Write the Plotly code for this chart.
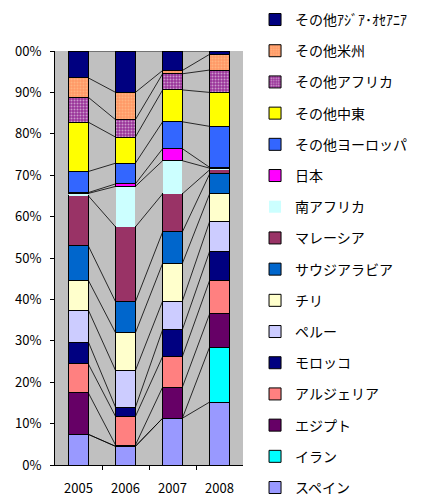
import plotly.graph_objects as go
import numpy as np

years = ["2005", "2006", "2007", "2008"]
x_pos = [0, 1, 2, 3]

# Series (bottom to top), shares in %
spain      = [7.4, 4.5, 11.3, 15.2]
iran       = [0.0, 0.0, 0.0, 13.3]
egypt      = [10.0, 0.3, 7.5, 8.0]
algeria    = [7.0, 6.9, 7.4, 8.1]
morocco    = [5.3, 2.2, 6.5, 7.0]
peru       = [7.7, 8.9, 6.9, 7.2]
chile      = [7.2, 9.1, 9.1, 6.7]
saudi      = [8.3, 7.5, 7.6, 4.8]
malaysia   = [12.1, 18.1, 9.2, 1.0]
s_africa   = [0.6, 9.8, 8.0, 0.4]
japan      = [0.2, 0.6, 2.9, 0.2]
oth_europe = [5.1, 5.0, 6.5, 9.9]
oth_mideast= [11.9, 6.3, 7.7, 8.2]
oth_africa = [6.0, 4.2, 3.9, 5.4]
oth_america= [4.7, 6.6, 0.8, 3.8]
oth_asia   = [6.5, 10.0, 4.7, 0.8]

names = ["スペイン", "イラン", "エジプト", "アルジェリア", "モロッコ", "ペルー", "チリ",
         "サウジアラビア", "マレーシア", "南アフリカ", "日本", "その他ヨーロッパ",
         "その他中東", "その他アフリカ", "その他米州", "その他ｱｼﾞｱ･ｵｾｱﾆｱ"]
values = [spain, iran, egypt, algeria, morocco, peru, chile, saudi, malaysia,
          s_africa, japan, oth_europe, oth_mideast, oth_africa, oth_america, oth_asia]
colors = ["#9999FF", "#00FFFF", "#660066", "#FF8080", "#000080", "#CCCCFF", "#FFFFCC",
          "#0066CC", "#993366", "#CCFFFF", "#FF00FF", "#3366FF", "#FFFF00",
          "#993399", "#FF9966", "#000080"]

y_tickvals = [0, 10, 20, 30, 40, 50, 60, 70, 80, 90, 100]
y_ticktext = ["0%", "10%", "20%", "30%", "40%", "50%", "60%", "70%", "80%", "90%", "00%"]

BAR_W = 0.42
FONT = "Noto Sans CJK JP"

fig = go.Figure()

for k, (name, vals, col) in enumerate(zip(names, values, colors)):
    marker = dict(color=col, line=dict(color="black", width=1))
    if name == "南アフリカ":
        marker["line"] = dict(color=col, width=0)
    if name == "その他アフリカ":
        marker["pattern"] = dict(shape=".", fgcolor="#FFFFFF", bgcolor="#993399",
                                 size=3, solidity=0.35)
    if name == "その他米州":
        marker["pattern"] = dict(shape=".", fgcolor="#FFCC99", bgcolor="#FF9966",
                                 size=3, solidity=0.35)
    fig.add_trace(go.Bar(x=x_pos, y=vals, name=name, marker=marker, width=BAR_W,
                         legendgroup=name, legendrank=100 - k))

# Series lines connecting the top of each segment between adjacent bars
cum = np.cumsum(np.array(values), axis=0)
lx, ly = [], []
for k in range(len(names)):
    for i in range(len(x_pos) - 1):
        lx += [x_pos[i] + BAR_W / 2, x_pos[i + 1] - BAR_W / 2, None]
        ly += [cum[k][i], cum[k][i + 1], None]
fig.add_trace(go.Scatter(x=lx, y=ly, mode="lines", line=dict(color="black", width=0.8),
                         showlegend=False, hoverinfo="skip"))

fig.update_layout(
    width=426, height=497,
    barmode="stack",
    paper_bgcolor="white",
    plot_bgcolor="#C0C0C0",
    margin=dict(l=47, r=191, t=43, b=40, autoexpand=False),
    font=dict(family=FONT, color="black", size=13),
    showlegend=True,
    legend=dict(traceorder="grouped", tracegroupgap=10, maxheight=600,
                x=1.064, xanchor="left", y=1.1137, yanchor="top",
                font=dict(family=FONT, size=14, color="black"),
                bgcolor="rgba(0,0,0,0)", borderwidth=0),
    xaxis=dict(range=[-0.5, 3.5], tickvals=x_pos, ticktext=years, ticks="",
               showline=True, linecolor="black", linewidth=1, showgrid=False,
               zeroline=False, ticklabelstandoff=11,
               minor=dict(tickvals=[0.5, 1.5, 2.5], ticks="outside", ticklen=4,
                          tickcolor="black", showgrid=False),
               tickfont=dict(size=13, family=FONT)),
    yaxis=dict(range=[0, 100], tickvals=y_tickvals, ticktext=y_ticktext,
               ticks="outside", ticklen=4, tickcolor="black", ticklabelstandoff=6,
               showline=True, linecolor="black", linewidth=1, showgrid=False,
               zeroline=False, tickfont=dict(size=13, family=FONT)),
)

fig.write_html("out.html")
